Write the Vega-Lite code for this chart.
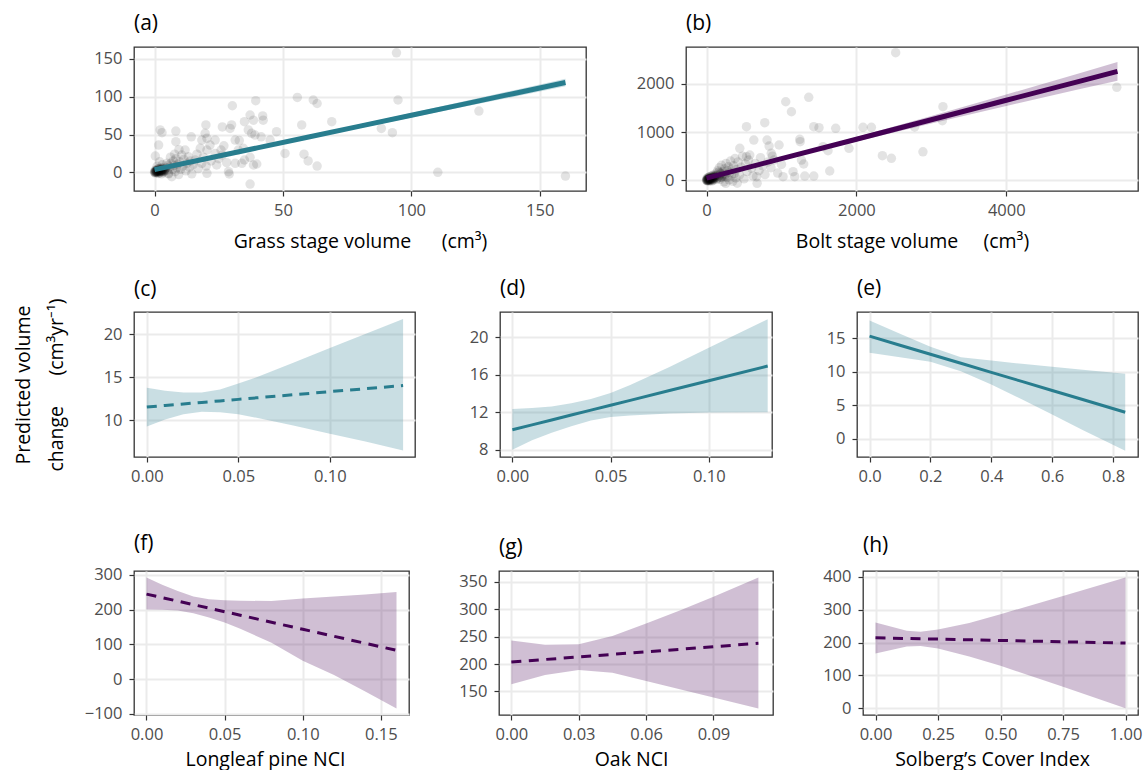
{
  "$schema": "https://vega.github.io/schema/vega-lite/v6.json",
  "background": "white",
  "padding": {"left": 12, "top": 12, "right": 4, "bottom": 0},
  "config": {
    "font": "Open Sans",
    "view": {"stroke": "#333333", "strokeWidth": 1.3},
    "axis": {
      "labelFont": "Open Sans", "labelFontSize": 16.5, "labelColor": "#4d4d4d",
      "titleFont": "Open Sans", "titleFontSize": 19.5, "titleFontWeight": "normal", "titleColor": "#000000",
      "tickColor": "#333333", "tickSize": 5, "tickWidth": 1.2,
      "domain": false, "gridColor": "#ebebeb", "gridWidth": 2,
      "labelFlush": false, "labelOverlap": false
    },
    "axisX": {"labelPadding": 6},
    "axisY": {"labelPadding": 7},
    "title": {"font": "Open Sans", "fontSize": 21, "fontWeight": "normal", "anchor": "start", "frame": "group", "offset": 13, "baseline": "bottom", "color": "#000000"}
  },
  "datasets": {
    "a_pts": [
      {"x":0,"y":0},{"x":0.2,"y":0.5},{"x":0.4,"y":1.2},{"x":0.6,"y":0.3},{"x":0.8,"y":1.8},{"x":1,"y":0.8},{"x":1.2,"y":2.5},{"x":1.4,"y":1.4},{"x":1.6,"y":0.2},{"x":1.8,"y":3},
      {"x":2,"y":1.6},{"x":2.2,"y":0.6},{"x":2.4,"y":2.2},{"x":2.6,"y":3.6},{"x":2.8,"y":1},{"x":3,"y":2.8},{"x":3.2,"y":4.2},{"x":3.4,"y":1.8},{"x":3.6,"y":3.4},{"x":3.8,"y":0.8},
      {"x":4,"y":2.6},{"x":0.3,"y":-1},{"x":0.9,"y":-0.5},{"x":1.5,"y":-1.5},{"x":2.1,"y":-0.8},{"x":2.7,"y":-2},{"x":3.3,"y":-0.4},{"x":0.5,"y":3},{"x":1.1,"y":4},{"x":1.7,"y":5},
      {"x":0.1,"y":2},{"x":0.7,"y":2.2},{"x":1.3,"y":3.2},{"x":1.9,"y":4.6},{"x":2.5,"y":5.5},{"x":3.1,"y":6},{"x":0.15,"y":0.1},{"x":0.45,"y":0.6},{"x":0.75,"y":1},{"x":1.05,"y":1.3},
      {"x":1.35,"y":0.4},{"x":1.65,"y":2},{"x":1.95,"y":1.1},{"x":2.25,"y":2.9},{"x":2.55,"y":1.7},{"x":2.85,"y":3.9},{"x":3.15,"y":2.3},{"x":3.45,"y":4.8},{"x":3.75,"y":1.6},{"x":4.05,"y":4},
      {"x":4.5,"y":6},{"x":5,"y":3},{"x":5.2,"y":9},{"x":5.5,"y":-2},{"x":6,"y":7},{"x":6.4,"y":12},{"x":6.7,"y":-5.8},{"x":7,"y":4},{"x":7.3,"y":15},{"x":7.6,"y":9},
      {"x":8,"y":1},{"x":8.3,"y":18},{"x":8.6,"y":6},{"x":9,"y":11},{"x":9.4,"y":-3},{"x":9.8,"y":14},{"x":10.2,"y":4},{"x":10.6,"y":22.9},{"x":11,"y":8},{"x":11.4,"y":17},
      {"x":11.9,"y":29.5},{"x":12.2,"y":2},{"x":12.6,"y":12},{"x":13.2,"y":20.6},{"x":13.6,"y":7},{"x":14,"y":15},{"x":14.5,"y":-2},{"x":15,"y":10},{"x":15.8,"y":16.3},{"x":16.5,"y":24},
      {"x":17,"y":5},{"x":17.8,"y":31.7},{"x":18.4,"y":11.9},{"x":18.4,"y":42.7},{"x":19,"y":20},{"x":20.1,"y":8.3},{"x":20.4,"y":29.5},{"x":20.4,"y":-1.3},{"x":21.6,"y":36},{"x":22,"y":15},
      {"x":23.6,"y":25},{"x":23.6,"y":42.7},{"x":24.2,"y":9.7},{"x":25,"y":18},{"x":25.9,"y":29.5},{"x":26.4,"y":22.9},{"x":27,"y":35},{"x":28.1,"y":12.7},{"x":28.8,"y":0.8},{"x":5.4,"y":-1.3},
      {"x":4.8,"y":12},{"x":6.2,"y":20},{"x":7.8,"y":24},{"x":9.5,"y":30},{"x":3,"y":10},{"x":2,"y":14},{"x":1,"y":8},{"x":0.3,"y":21.6},{"x":1.6,"y":36},{"x":8.3,"y":40.5},
      {"x":14.3,"y":47},{"x":20.4,"y":45},{"x":19.7,"y":51.6},{"x":20,"y":62.6},{"x":26.4,"y":60},{"x":2.2,"y":56},{"x":2.9,"y":52.4},{"x":8.3,"y":54.6},
      {"x":32.6,"y":29.5},{"x":34.6,"y":31.7},{"x":31.4,"y":11.9},{"x":34,"y":11.9},{"x":35,"y":16.3},{"x":37.2,"y":19.8},{"x":38.5,"y":9.7},{"x":39.8,"y":11},{"x":29.1,"y":-2.2},{"x":37.2,"y":-15.5},
      {"x":31.4,"y":42.7},{"x":33,"y":42},{"x":36.5,"y":56},{"x":37.8,"y":51.6},{"x":39.1,"y":49.3},{"x":41.5,"y":47},{"x":45,"y":42.7},{"x":47.5,"y":53.7},{"x":30.3,"y":88},{"x":39.4,"y":94.7},
      {"x":55.6,"y":99},{"x":61.8,"y":95.6},{"x":63.3,"y":91},{"x":94.2,"y":158},{"x":94.8,"y":95.6},{"x":126.3,"y":81},{"x":110.3,"y":0},{"x":160,"y":-5},{"x":69,"y":67},{"x":88.3,"y":58},
      {"x":92.6,"y":52.4},{"x":57.3,"y":62.6},{"x":50.8,"y":25},{"x":58.2,"y":24},{"x":59.8,"y":15},{"x":63.3,"y":8.3},{"x":37.2,"y":75.8},{"x":42.1,"y":74.5},{"x":38.5,"y":69},{"x":42.3,"y":69},
      {"x":35,"y":67},{"x":30,"y":62.6},{"x":29.4,"y":58}
    ],
    "a_fit": [
      {"x":0,"fit":3.5,"lo":2.3,"hi":4.7},{"x":20,"fit":17.9,"lo":16.7,"hi":19.1},{"x":40,"fit":32.3,"lo":30.8,"hi":33.8},
      {"x":60,"fit":46.7,"lo":44.7,"hi":48.7},{"x":80,"fit":61.1,"lo":58.6,"hi":63.6},{"x":100,"fit":75.5,"lo":72.5,"hi":78.5},
      {"x":120,"fit":89.9,"lo":86.3,"hi":93.5},{"x":140,"fit":104.3,"lo":100,"hi":108.6},{"x":160,"fit":118.7,"lo":113.7,"hi":123.7}
    ],
    "b_pts": [
      {"x":0,"y":0},{"x":5,"y":10},{"x":10,"y":5},{"x":15,"y":20},{"x":20,"y":12},{"x":25,"y":30},{"x":30,"y":8},{"x":35,"y":25},{"x":40,"y":40},{"x":45,"y":15},
      {"x":50,"y":35},{"x":55,"y":50},{"x":60,"y":22},{"x":65,"y":45},{"x":70,"y":60},{"x":75,"y":30},{"x":80,"y":55},{"x":85,"y":70},{"x":90,"y":40},{"x":95,"y":65},
      {"x":100,"y":80},{"x":105,"y":50},{"x":110,"y":90},{"x":115,"y":60},{"x":120,"y":100},{"x":8,"y":-10},{"x":18,"y":-5},{"x":28,"y":-15},{"x":38,"y":2},{"x":48,"y":-8},
      {"x":58,"y":5},{"x":68,"y":-12},{"x":78,"y":18},{"x":88,"y":-5},{"x":98,"y":25},{"x":2,"y":30},{"x":12,"y":45},{"x":22,"y":55},{"x":32,"y":65},{"x":42,"y":75},
      {"x":52,"y":20},{"x":62,"y":85},{"x":72,"y":95},{"x":82,"y":10},{"x":92,"y":110},{"x":3,"y":3},{"x":13,"y":15},{"x":23,"y":2},{"x":33,"y":42},{"x":43,"y":28},
      {"x":130,"y":150},{"x":140,"y":40},{"x":150,"y":200},{"x":160,"y":90},{"x":170,"y":260},{"x":180,"y":20},{"x":190,"y":130},{"x":200,"y":310},{"x":210,"y":70},{"x":220,"y":180},
      {"x":230,"y":-30},{"x":240,"y":240},{"x":250,"y":120},{"x":260,"y":350},{"x":270,"y":60},{"x":280,"y":200},{"x":290,"y":280},{"x":300,"y":10},{"x":310,"y":160},{"x":320,"y":400},
      {"x":330,"y":90},{"x":340,"y":230},{"x":350,"y":-20},{"x":360,"y":300},{"x":370,"y":140},{"x":380,"y":450},{"x":390,"y":50},{"x":400,"y":220},{"x":420,"y":380},{"x":440,"y":110},
      {"x":460,"y":270},{"x":480,"y":500},{"x":500,"y":30},{"x":520,"y":340},{"x":540,"y":180},{"x":560,"y":420},{"x":600,"y":250},{"x":620,"y":90},{"x":650,"y":350},{"x":700,"y":200},
      {"x":720,"y":470},{"x":750,"y":300},{"x":780,"y":120},{"x":820,"y":380},{"x":860,"y":260},{"x":900,"y":420},{"x":950,"y":150},{"x":1000,"y":330},{"x":410,"y":-60},{"x":257,"y":-62},
      {"x":675,"y":-62},{"x":667,"y":75},
      {"x":125,"y":70},{"x":145,"y":110},{"x":165,"y":55},{"x":185,"y":150},{"x":205,"y":95},{"x":225,"y":130},{"x":245,"y":75},{"x":165,"y":170},{"x":195,"y":60},{"x":135,"y":20},
      {"x":2524,"y":2642},{"x":1057,"y":1627},{"x":1364,"y":1718},{"x":1133,"y":1420},{"x":533,"y":1110},{"x":777,"y":1193},{"x":1431,"y":1110},{"x":1501,"y":1089},{"x":1724,"y":1076},{"x":2088,"y":1097},
      {"x":2200,"y":1097},{"x":1901,"y":662},{"x":631,"y":834},{"x":808,"y":834},{"x":835,"y":710},{"x":444,"y":662},{"x":577,"y":524},{"x":533,"y":489},{"x":968,"y":731},{"x":1244,"y":849},
      {"x":1250,"y":800},{"x":1555,"y":696},{"x":1621,"y":613},{"x":2347,"y":510},{"x":2467,"y":455},{"x":1644,"y":193},{"x":1267,"y":420},{"x":1297,"y":338},{"x":1155,"y":178},{"x":1177,"y":75},
      {"x":1021,"y":75},{"x":1311,"y":89},{"x":1431,"y":89},{"x":864,"y":560},{"x":880,"y":500},{"x":5475,"y":1925},{"x":3155,"y":1524},{"x":3147,"y":1234},{"x":2777,"y":1104},{"x":2888,"y":590}
    ],
    "b_fit": [
      {"x":0,"fit":45,"lo":30,"hi":60},{"x":1000,"fit":448,"lo":426,"hi":470},{"x":2000,"fit":851,"lo":806,"hi":896},
      {"x":3000,"fit":1254,"lo":1174,"hi":1334},{"x":4000,"fit":1657,"lo":1537,"hi":1777},{"x":5000,"fit":2060,"lo":1895,"hi":2225},
      {"x":5484,"fit":2255,"lo":2060,"hi":2450}
    ],
    "c": [
      {"x":0,"fit":11.55,"lo":9.3,"hi":13.8},{"x":0.01,"fit":11.73,"lo":10.1,"hi":13.45},{"x":0.02,"fit":11.91,"lo":10.7,"hi":13.25},
      {"x":0.03,"fit":12.09,"lo":11.0,"hi":13.25},{"x":0.04,"fit":12.26,"lo":10.95,"hi":13.6},{"x":0.05,"fit":12.44,"lo":10.7,"hi":14.3},
      {"x":0.06,"fit":12.62,"lo":10.3,"hi":15.0},{"x":0.08,"fit":12.98,"lo":9.4,"hi":16.7},{"x":0.1,"fit":13.34,"lo":8.45,"hi":18.4},
      {"x":0.12,"fit":13.69,"lo":7.5,"hi":20.1},{"x":0.14,"fit":14.05,"lo":6.5,"hi":21.8}
    ],
    "d": [
      {"x":0,"fit":10.12,"lo":8.0,"hi":12.33},{"x":0.01,"fit":10.64,"lo":9.0,"hi":12.45},{"x":0.02,"fit":11.16,"lo":9.8,"hi":12.6},
      {"x":0.03,"fit":11.69,"lo":10.5,"hi":12.95},{"x":0.04,"fit":12.21,"lo":11.1,"hi":13.4},{"x":0.05,"fit":12.73,"lo":11.47,"hi":14.04},
      {"x":0.06,"fit":13.25,"lo":11.65,"hi":14.9},{"x":0.08,"fit":14.3,"lo":11.85,"hi":16.8},{"x":0.1,"fit":15.34,"lo":11.95,"hi":18.86},
      {"x":0.13,"fit":16.91,"lo":12.0,"hi":21.9}
    ],
    "e": [
      {"x":0,"fit":15.35,"lo":12.85,"hi":17.7},{"x":0.1,"fit":13.99,"lo":12.2,"hi":15.7},{"x":0.2,"fit":12.64,"lo":11.5,"hi":13.75},
      {"x":0.3,"fit":11.28,"lo":10.1,"hi":12.2},{"x":0.4,"fit":9.92,"lo":8.1,"hi":11.7},{"x":0.5,"fit":8.57,"lo":5.9,"hi":11.2},
      {"x":0.6,"fit":7.21,"lo":3.6,"hi":10.75},{"x":0.7,"fit":5.85,"lo":1.3,"hi":10.3},{"x":0.84,"fit":3.95,"lo":-1.8,"hi":9.7}
    ],
    "f": [
      {"x":0,"fit":245,"lo":201,"hi":293},{"x":0.01,"fit":234.9,"lo":200,"hi":272},{"x":0.02,"fit":224.8,"lo":198,"hi":254},
      {"x":0.03,"fit":214.6,"lo":190,"hi":238},{"x":0.04,"fit":204.5,"lo":178,"hi":230},{"x":0.05,"fit":194.4,"lo":163,"hi":227},
      {"x":0.06,"fit":184.3,"lo":145,"hi":226},{"x":0.08,"fit":164,"lo":105,"hi":225},{"x":0.1,"fit":143.8,"lo":53,"hi":232},
      {"x":0.12,"fit":123.6,"lo":12,"hi":238},{"x":0.14,"fit":103.3,"lo":-35,"hi":244},{"x":0.16,"fit":83.1,"lo":-84,"hi":251}
    ],
    "g": [
      {"x":0,"fit":203.6,"lo":163,"hi":243},{"x":0.015,"fit":208.3,"lo":180,"hi":235},{"x":0.03,"fit":212.9,"lo":189,"hi":236},
      {"x":0.045,"fit":217.6,"lo":184,"hi":251},{"x":0.06,"fit":222.3,"lo":169,"hi":274},{"x":0.075,"fit":226.9,"lo":154,"hi":298},
      {"x":0.09,"fit":231.6,"lo":138.7,"hi":323},{"x":0.11,"fit":237.8,"lo":118.6,"hi":358}
    ],
    "h": [
      {"x":0,"fit":214.6,"lo":167,"hi":261},{"x":0.125,"fit":212.6,"lo":188,"hi":236},{"x":0.18,"fit":211.7,"lo":190,"hi":233},
      {"x":0.25,"fit":210.6,"lo":182,"hi":240},{"x":0.375,"fit":208.6,"lo":158,"hi":260},{"x":0.5,"fit":206.6,"lo":129.5,"hi":286.6},
      {"x":0.75,"fit":202.5,"lo":65.7,"hi":342},{"x":1.0,"fit":198.5,"lo":0,"hi":398}
    ]
  },
  "spacing": 25,
  "vconcat": [
    {
      "hconcat": [
        {
          "width": 452, "height": 144, "title": "(a)",
          "resolve": {"axis": {"x": "independent", "y": "independent"}},
          "layer": [
            {"data": {"name": "a_pts"}, "mark": {"type": "circle", "size": 90, "opacity": 0.11, "color": "#000000", "clip": true},
             "encoding": {
               "x": {"field": "x", "type": "quantitative", "scale": {"domain": [-8, 168], "nice": false, "zero": false},
                     "axis": {"orient": "bottom", "values": [0, 50, 100, 150], "format": "d", "title": "Grass stage volume\u00a0\u00a0\u00a0\u00a0\u00a0 (cm\u00b3)", "titlePadding": 13.5}},
               "y": {"field": "y", "type": "quantitative", "scale": {"domain": [-24.7, 165.7], "nice": false, "zero": false},
                     "axis": {"orient": "left", "values": [0, 50, 100, 150], "format": "d", "title": null}}
             }},
            {"data": {"name": "a_fit"}, "mark": {"type": "area", "color": "#287D8E", "opacity": 0.25},
             "encoding": {
               "x": {"field": "x", "type": "quantitative", "scale": {"domain": [-8, 168], "nice": false, "zero": false},
                     "axis": {"orient": "top", "values": [25, 75, 125], "gridWidth": 1, "labels": false, "ticks": false, "domain": false, "title": null}},
               "y": {"field": "lo", "type": "quantitative", "scale": {"domain": [-24.7, 165.7], "nice": false, "zero": false},
                     "axis": {"orient": "right", "values": [25, 75, 125], "gridWidth": 1, "labels": false, "ticks": false, "domain": false, "title": null}},
               "y2": {"field": "hi"}
             }},
            {"data": {"name": "a_fit"}, "mark": {"type": "line", "color": "#287D8E", "strokeWidth": 5},
             "encoding": {
               "x": {"field": "x", "type": "quantitative", "scale": {"domain": [-8, 168], "nice": false, "zero": false}, "axis": null},
               "y": {"field": "fit", "type": "quantitative", "scale": {"domain": [-24.7, 165.7], "nice": false, "zero": false}, "axis": null}
             }}
          ]
        },
        {
          "width": 452, "height": 144, "title": "(b)",
          "resolve": {"axis": {"x": "independent", "y": "independent"}},
          "layer": [
            {"data": {"name": "b_pts"}, "mark": {"type": "circle", "size": 90, "opacity": 0.11, "color": "#000000", "clip": true},
             "encoding": {
               "x": {"field": "x", "type": "quantitative", "scale": {"domain": [-274, 5758], "nice": false, "zero": false},
                     "axis": {"orient": "bottom", "values": [0, 2000, 4000], "format": "d", "title": "Bolt stage volume\u00a0\u00a0\u00a0\u00a0 (cm\u00b3)", "titlePadding": 13.5}},
               "y": {"field": "y", "type": "quantitative", "scale": {"domain": [-221, 2760], "nice": false, "zero": false},
                     "axis": {"orient": "left", "values": [0, 1000, 2000], "format": "d", "title": null}}
             }},
            {"data": {"name": "b_fit"}, "mark": {"type": "area", "color": "#440154", "opacity": 0.25},
             "encoding": {
               "x": {"field": "x", "type": "quantitative", "scale": {"domain": [-274, 5758], "nice": false, "zero": false},
                     "axis": {"orient": "top", "values": [1000, 3000, 5000], "gridWidth": 1, "labels": false, "ticks": false, "domain": false, "title": null}},
               "y": {"field": "lo", "type": "quantitative", "scale": {"domain": [-221, 2760], "nice": false, "zero": false},
                     "axis": {"orient": "right", "values": [500, 1500, 2500], "gridWidth": 1, "labels": false, "ticks": false, "domain": false, "title": null}},
               "y2": {"field": "hi"}
             }},
            {"data": {"name": "b_fit"}, "mark": {"type": "line", "color": "#440154", "strokeWidth": 5},
             "encoding": {
               "x": {"field": "x", "type": "quantitative", "scale": {"domain": [-274, 5758], "nice": false, "zero": false}, "axis": null},
               "y": {"field": "fit", "type": "quantitative", "scale": {"domain": [-221, 2760], "nice": false, "zero": false}, "axis": null}
             }}
          ]
        }
      ],
      "spacing": 100, "bounds": "flush"
    },
    {
      "hconcat": [
        {
          "width": 281, "height": 145, "title": {"text": "(c)", "dy": 15},
          "resolve": {"axis": {"x": "independent", "y": "independent"}},
          "data": {"name": "c"},
          "layer": [
            {"mark": {"type": "area", "color": "#287D8E", "opacity": 0.25},
             "encoding": {
               "x": {"field": "x", "type": "quantitative", "scale": {"domain": [-0.007, 0.1465], "nice": false, "zero": false},
                     "axis": {"orient": "bottom", "values": [0, 0.05, 0.1], "format": ".2f", "title": "\u00a0", "titleFontSize": 15, "titlePadding": 6.5}},
               "y": {"field": "lo", "type": "quantitative", "scale": {"domain": [5.74, 22.6], "nice": false, "zero": false},
                     "axis": {"orient": "left", "values": [10, 15, 20], "format": "d", "title": ["Predicted volume", "change\u00a0\u00a0\u00a0\u00a0\u00a0 (cm\u00b3yr\u207b\u00b9)"], "titlePadding": 37, "titleLineHeight": 33}},
               "y2": {"field": "hi"}
             }},
            {"mark": {"type": "line", "color": "#287D8E", "strokeWidth": 3, "strokeDash": [10, 7]},
             "encoding": {
               "x": {"field": "x", "type": "quantitative", "scale": {"domain": [-0.007, 0.1465], "nice": false, "zero": false},
                     "axis": {"orient": "top", "values": [0.025, 0.075, 0.125], "gridWidth": 1, "labels": false, "ticks": false, "domain": false, "title": null}},
               "y": {"field": "fit", "type": "quantitative", "scale": {"domain": [5.74, 22.6], "nice": false, "zero": false},
                     "axis": {"orient": "right", "values": [7.5, 12.5, 17.5], "gridWidth": 1, "labels": false, "ticks": false, "domain": false, "title": null}}
             }}
          ]
        },
        {
          "width": 272, "height": 145, "title": "(d)",
          "resolve": {"axis": {"x": "independent", "y": "independent"}},
          "data": {"name": "d"},
          "layer": [
            {"mark": {"type": "area", "color": "#287D8E", "opacity": 0.25},
             "encoding": {
               "x": {"field": "x", "type": "quantitative", "scale": {"domain": [-0.0063, 0.1322], "nice": false, "zero": false},
                     "axis": {"orient": "bottom", "values": [0, 0.05, 0.1], "format": ".2f", "title": null}},
               "y": {"field": "lo", "type": "quantitative", "scale": {"domain": [7.22, 22.67], "nice": false, "zero": false},
                     "axis": {"orient": "left", "values": [8, 12, 16, 20], "format": "d", "title": null}},
               "y2": {"field": "hi"}
             }},
            {"mark": {"type": "line", "color": "#287D8E", "strokeWidth": 3},
             "encoding": {
               "x": {"field": "x", "type": "quantitative", "scale": {"domain": [-0.0063, 0.1322], "nice": false, "zero": false},
                     "axis": {"orient": "top", "values": [0.025, 0.075, 0.125], "gridWidth": 1, "labels": false, "ticks": false, "domain": false, "title": null}},
               "y": {"field": "fit", "type": "quantitative", "scale": {"domain": [7.22, 22.67], "nice": false, "zero": false},
                     "axis": {"orient": "right", "values": [10, 14, 18, 22], "gridWidth": 1, "labels": false, "ticks": false, "domain": false, "title": null}}
             }}
          ]
        },
        {
          "width": 281, "height": 145, "title": "(e)",
          "resolve": {"axis": {"x": "independent", "y": "independent"}},
          "data": {"name": "e"},
          "layer": [
            {"mark": {"type": "area", "color": "#287D8E", "opacity": 0.25},
             "encoding": {
               "x": {"field": "x", "type": "quantitative", "scale": {"domain": [-0.0413, 0.882], "nice": false, "zero": false},
                     "axis": {"orient": "bottom", "values": [0, 0.2, 0.4, 0.6, 0.8], "format": ".1f", "title": null}},
               "y": {"field": "lo", "type": "quantitative", "scale": {"domain": [-2.75, 18.96], "nice": false, "zero": false},
                     "axis": {"orient": "left", "values": [0, 5, 10, 15], "format": "d", "title": null}},
               "y2": {"field": "hi"}
             }},
            {"mark": {"type": "line", "color": "#287D8E", "strokeWidth": 3},
             "encoding": {
               "x": {"field": "x", "type": "quantitative", "scale": {"domain": [-0.0413, 0.882], "nice": false, "zero": false},
                     "axis": {"orient": "top", "values": [0.1, 0.3, 0.5, 0.7], "gridWidth": 1, "labels": false, "ticks": false, "domain": false, "title": null}},
               "y": {"field": "fit", "type": "quantitative", "scale": {"domain": [-2.75, 18.96], "nice": false, "zero": false},
                     "axis": {"orient": "right", "values": [2.5, 7.5, 12.5, 17.5], "gridWidth": 1, "labels": false, "ticks": false, "domain": false, "title": null}}
             }}
          ]
        }
      ],
      "spacing": 85, "bounds": "flush"
    },
    {
      "hconcat": [
        {
          "width": 275, "height": 144, "title": "(f)",
          "resolve": {"axis": {"x": "independent", "y": "independent"}},
          "data": {"name": "f"},
          "layer": [
            {"mark": {"type": "area", "color": "#440154", "opacity": 0.25},
             "encoding": {
               "x": {"field": "x", "type": "quantitative", "scale": {"domain": [-0.008, 0.168], "nice": false, "zero": false},
                     "axis": {"orient": "bottom", "values": [0, 0.05, 0.1, 0.15], "format": ".2f", "title": "Longleaf pine NCI", "titlePadding": 7.5, "titleX": 131}},
               "y": {"field": "lo", "type": "quantitative", "scale": {"domain": [-103, 311.5], "nice": false, "zero": false},
                     "axis": {"orient": "left", "values": [-100, 0, 100, 200, 300], "format": "d", "title": null}},
               "y2": {"field": "hi"}
             }},
            {"mark": {"type": "line", "color": "#440154", "strokeWidth": 3, "strokeDash": [10, 7.5]},
             "encoding": {
               "x": {"field": "x", "type": "quantitative", "scale": {"domain": [-0.008, 0.168], "nice": false, "zero": false},
                     "axis": {"orient": "top", "values": [0.025, 0.075, 0.125], "gridWidth": 1, "labels": false, "ticks": false, "domain": false, "title": null}},
               "y": {"field": "fit", "type": "quantitative", "scale": {"domain": [-103, 311.5], "nice": false, "zero": false},
                     "axis": {"orient": "right", "values": [-50, 50, 150, 250], "gridWidth": 1, "labels": false, "ticks": false, "domain": false, "title": null}}
             }}
          ]
        },
        {
          "width": 274, "height": 144, "title": "(g)",
          "resolve": {"axis": {"x": "independent", "y": "independent"}},
          "data": {"name": "g"},
          "layer": [
            {"mark": {"type": "area", "color": "#440154", "opacity": 0.25},
             "encoding": {
               "x": {"field": "x", "type": "quantitative", "scale": {"domain": [-0.0055, 0.1165], "nice": false, "zero": false},
                     "axis": {"orient": "bottom", "values": [0, 0.03, 0.06, 0.09], "format": ".2f", "title": "Oak NCI", "titlePadding": 7.5, "titleX": 132}},
               "y": {"field": "lo", "type": "quantitative", "scale": {"domain": [106.8, 370], "nice": false, "zero": false},
                     "axis": {"orient": "left", "values": [150, 200, 250, 300, 350], "format": "d", "title": null}},
               "y2": {"field": "hi"}
             }},
            {"mark": {"type": "line", "color": "#440154", "strokeWidth": 3, "strokeDash": [10, 7.5]},
             "encoding": {
               "x": {"field": "x", "type": "quantitative", "scale": {"domain": [-0.0055, 0.1165], "nice": false, "zero": false},
                     "axis": {"orient": "top", "values": [0.015, 0.045, 0.075, 0.105], "gridWidth": 1, "labels": false, "ticks": false, "domain": false, "title": null}},
               "y": {"field": "fit", "type": "quantitative", "scale": {"domain": [106.8, 370], "nice": false, "zero": false},
                     "axis": {"orient": "right", "values": [125, 175, 225, 275, 325], "gridWidth": 1, "labels": false, "ticks": false, "domain": false, "title": null}}
             }}
          ]
        },
        {
          "width": 275, "height": 144, "title": "(h)",
          "resolve": {"axis": {"x": "independent", "y": "independent"}},
          "data": {"name": "h"},
          "layer": [
            {"mark": {"type": "area", "color": "#440154", "opacity": 0.25},
             "encoding": {
               "x": {"field": "x", "type": "quantitative", "scale": {"domain": [-0.05, 1.05], "nice": false, "zero": false},
                     "axis": {"orient": "bottom", "values": [0, 0.25, 0.5, 0.75, 1], "format": ".2f", "title": "Solberg\u2019s Cover Index", "titlePadding": 7.5, "titleX": 129}},
               "y": {"field": "lo", "type": "quantitative", "scale": {"domain": [-20.4, 418], "nice": false, "zero": false},
                     "axis": {"orient": "left", "values": [0, 100, 200, 300, 400], "format": "d", "title": null}},
               "y2": {"field": "hi"}
             }},
            {"mark": {"type": "line", "color": "#440154", "strokeWidth": 3, "strokeDash": [10, 7.5]},
             "encoding": {
               "x": {"field": "x", "type": "quantitative", "scale": {"domain": [-0.05, 1.05], "nice": false, "zero": false},
                     "axis": {"orient": "top", "values": [0.125, 0.375, 0.625, 0.875], "gridWidth": 1, "labels": false, "ticks": false, "domain": false, "title": null}},
               "y": {"field": "fit", "type": "quantitative", "scale": {"domain": [-20.4, 418], "nice": false, "zero": false},
                     "axis": {"orient": "right", "values": [50, 150, 250, 350], "gridWidth": 1, "labels": false, "ticks": false, "domain": false, "title": null}}
             }}
          ]
        }
      ],
      "spacing": 90, "bounds": "flush"
    }
  ]
}
